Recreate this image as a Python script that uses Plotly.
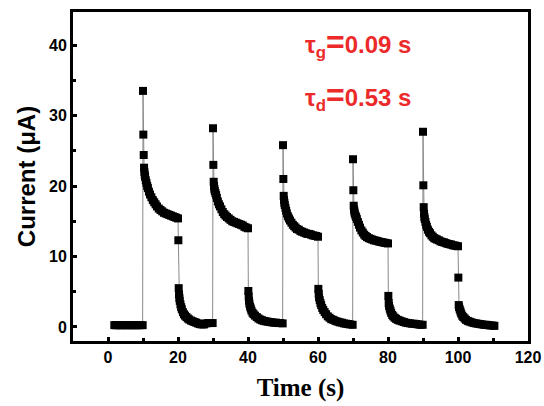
import plotly.graph_objects as go

# ---- data (time in s, current in uA) ----
dark_t = [1.8, 2.3, 2.8, 3.3, 3.8, 4.3, 4.8, 5.3, 5.8, 6.3, 6.8, 7.3, 7.8, 8.3, 8.8, 9.3, 9.9]
dark_i = [0.25, 0.25, 0.25, 0.25, 0.25, 0.25, 0.25, 0.25, 0.25, 0.25, 0.25, 0.25, 0.25, 0.25, 0.25, 0.25, 0.25]

on1_t = [10.0, 10.1, 10.2, 10.3, 10.4, 10.5, 10.6, 10.8, 11.0, 11.2, 11.4, 11.7, 12.0, 12.4, 12.8, 13.2, 13.6, 14.0, 14.5, 15.0, 15.5, 16.0, 16.5, 17.0, 17.5, 18.0, 18.5, 19.0, 19.5, 20.0]
on1_i = [33.5, 27.3, 24.4, 22.6, 22.0, 21.6, 21.3, 20.8, 20.4, 20.0, 19.7, 19.2, 18.8, 18.4, 18.0, 17.7, 17.4, 17.1, 16.8, 16.6, 16.4, 16.2, 16.1, 16.0, 15.9, 15.8, 15.7, 15.6, 15.5, 15.4]
off1_t = [20.1, 20.2, 20.3, 20.4, 20.5, 20.7, 20.9, 21.1, 21.4, 21.7, 22.0, 22.4, 22.8, 23.2, 23.7, 24.2, 24.7, 25.2, 25.7, 26.2, 26.8, 27.4, 28.0, 28.6, 29.2, 29.9]
off1_i = [12.3, 5.5, 4.6, 4.1, 3.7, 3.2, 2.8, 2.5, 2.1, 1.8, 1.6, 1.4, 1.2, 1.05, 0.9, 0.8, 0.7, 0.6, 0.5, 0.4, 0.35, 0.35, 0.5, 0.55, 0.55, 0.55]

on2_t = [30.0, 30.1, 30.2, 30.3, 30.4, 30.5, 30.7, 30.9, 31.1, 31.4, 31.7, 32.0, 32.4, 32.8, 33.2, 33.6, 34.0, 34.5, 35.0, 35.5, 36.0, 36.5, 37.0, 37.5, 38.0, 38.5, 39.0, 39.5, 40.0]
on2_i = [28.2, 23.0, 20.6, 20.0, 19.6, 19.3, 19.0, 18.7, 18.3, 17.8, 17.4, 17.1, 16.7, 16.3, 16.0, 15.8, 15.6, 15.4, 15.2, 15.0, 14.9, 14.8, 14.7, 14.6, 14.5, 14.4, 14.2, 14.1, 14.0]
off2_t = [40.1, 40.2, 40.3, 40.4, 40.6, 40.8, 41.0, 41.3, 41.6, 42.0, 42.5, 43.0, 43.5, 44.0, 44.5, 45.0, 45.6, 46.2, 46.8, 47.4, 48.0, 48.6, 49.2, 49.9]
off2_i = [5.1, 4.3, 3.7, 3.3, 2.9, 2.6, 2.3, 2.0, 1.8, 1.6, 1.4, 1.2, 1.05, 0.95, 0.85, 0.8, 0.75, 0.7, 0.65, 0.6, 0.6, 0.55, 0.55, 0.5]

on3_t = [50.0, 50.1, 50.2, 50.3, 50.4, 50.5, 50.7, 50.9, 51.1, 51.4, 51.7, 52.0, 52.4, 52.8, 53.2, 53.6, 54.0, 54.5, 55.0, 55.5, 56.0, 56.5, 57.0, 57.5, 58.0, 58.5, 59.0, 59.5, 60.0]
on3_i = [25.8, 21.0, 18.6, 18.0, 17.6, 17.3, 16.9, 16.5, 16.1, 15.7, 15.4, 15.1, 14.8, 14.5, 14.3, 14.1, 13.9, 13.8, 13.6, 13.5, 13.4, 13.3, 13.2, 13.2, 13.1, 13.0, 12.95, 12.9, 12.8]
off3_t = [60.1, 60.2, 60.3, 60.5, 60.7, 60.9, 61.2, 61.5, 61.9, 62.3, 62.8, 63.3, 63.8, 64.4, 65.0, 65.6, 66.2, 66.8, 67.4, 68.0, 68.6, 69.2, 69.9]
off3_i = [5.4, 4.7, 4.2, 3.8, 3.4, 3.1, 2.7, 2.4, 2.1, 1.8, 1.5, 1.3, 1.1, 1.0, 0.85, 0.75, 0.65, 0.6, 0.5, 0.45, 0.4, 0.35, 0.3]

on4_t = [70.0, 70.1, 70.2, 70.3, 70.4, 70.5, 70.7, 70.9, 71.1, 71.4, 71.7, 72.0, 72.4, 72.8, 73.2, 73.6, 74.0, 74.5, 75.0, 75.5, 76.0, 76.5, 77.0, 77.5, 78.0, 78.5, 79.0, 79.5, 80.0]
on4_i = [23.8, 19.4, 17.2, 16.7, 16.4, 16.1, 15.8, 15.6, 15.3, 14.9, 14.5, 14.1, 13.7, 13.4, 13.1, 12.9, 12.75, 12.6, 12.5, 12.4, 12.3, 12.25, 12.2, 12.1, 12.05, 12.0, 11.95, 11.9, 11.85]
off4_t = [80.1, 80.2, 80.3, 80.5, 80.7, 80.9, 81.2, 81.5, 81.9, 82.3, 82.8, 83.3, 83.9, 84.5, 85.1, 85.7, 86.3, 86.9, 87.5, 88.1, 88.7, 89.3, 89.9]
off4_i = [4.4, 3.4, 3.0, 2.6, 2.3, 2.0, 1.7, 1.5, 1.3, 1.15, 1.0, 0.9, 0.8, 0.7, 0.6, 0.55, 0.5, 0.45, 0.45, 0.4, 0.35, 0.3, 0.3]

on5_t = [90.0, 90.1, 90.2, 90.3, 90.4, 90.5, 90.7, 90.9, 91.1, 91.4, 91.7, 92.0, 92.4, 92.8, 93.2, 93.6, 94.0, 94.5, 95.0, 95.5, 96.0, 96.5, 97.0, 97.5, 98.0, 98.5, 99.0, 99.5, 100.0]
on5_i = [27.7, 20.1, 17.0, 16.1, 15.6, 15.3, 14.9, 14.5, 14.2, 13.8, 13.5, 13.3, 13.0, 12.8, 12.6, 12.5, 12.4, 12.3, 12.15, 12.05, 12.0, 11.9, 11.8, 11.75, 11.7, 11.6, 11.55, 11.5, 11.45]
off5_t = [100.1, 100.2, 100.3, 100.5, 100.7, 100.9, 101.2, 101.5, 101.9, 102.3, 102.8, 103.3, 103.9, 104.5, 105.1, 105.7, 106.3, 106.9, 107.5, 108.1, 108.7, 109.3, 109.9, 110.4]
off5_i = [7.0, 3.1, 2.8, 2.5, 2.2, 1.9, 1.6, 1.4, 1.2, 1.0, 0.85, 0.75, 0.65, 0.55, 0.5, 0.45, 0.4, 0.35, 0.3, 0.3, 0.25, 0.2, 0.2, 0.15]

x_ticks = [0, 20, 40, 60, 80, 100, 120]
y_ticks = [0, 10, 20, 30, 40]
tau_g_label = "τ<sub>g</sub><span style='font-size:32px'>=</span>0.09 s"
tau_d_label = "τ<sub>d</sub><span style='font-size:32px'>=</span>0.53 s"

time_s = (dark_t + on1_t + off1_t + on2_t + off2_t + on3_t + off3_t
          + on4_t + off4_t + on5_t + off5_t)
current_uA = (dark_i + on1_i + off1_i + on2_i + off2_i + on3_i + off3_i
              + on4_i + off4_i + on5_i + off5_i)

fig = go.Figure()
fig.add_trace(go.Scatter(
    x=time_s, y=current_uA, mode="lines+markers",
    line=dict(color="#8a8a8a", width=1),
    marker=dict(symbol="square", size=8, color="black", line=dict(width=0)),
    showlegend=False,
))

axis_common = dict(
    showline=True, linecolor="black", linewidth=3, mirror=True,
    ticks="inside", ticklen=4, tickwidth=3, tickcolor="black",
    showgrid=False, zeroline=False, automargin=False,
    tickfont=dict(family="Liberation Sans", size=16, color="black", weight="bold"),
)

fig.update_xaxes(
    range=[-10, 120], tickvals=x_ticks,
    minor=dict(ticks="inside", ticklen=3, tickwidth=3, tickcolor="black", dtick=10, tick0=0),
    title=dict(text="Time (s)", standoff=14,
               font=dict(family="Liberation Serif", size=25, color="black", weight="bold")),
    **axis_common,
)
fig.update_yaxes(
    range=[-2, 44.7], tickvals=y_ticks,
    minor=dict(ticks="inside", ticklen=3, tickwidth=3, tickcolor="black", dtick=5, tick0=0),
    title=dict(text="Current (μA)", standoff=7,
               font=dict(family="Liberation Sans", size=24, color="black", weight="bold")),
    **axis_common,
)

red = "#ec2a2a"
for label, ypos in [(tau_g_label, 0.905), (tau_d_label, 0.745)]:
    fig.add_annotation(
        text=label, xref="paper", yref="paper", x=0.505, y=ypos,
        xanchor="left", yanchor="middle", showarrow=False,
        font=dict(family="Liberation Sans", size=24, color=red, weight="bold"),
    )

fig.update_layout(
    width=544, height=406,
    margin=dict(l=73, r=16, t=12, b=65),
    paper_bgcolor="white", plot_bgcolor="white",
)

fig.write_html(
    "out.html",
    config={"displayModeBar": False},
    post_script="document.body.style.margin='0';document.body.style.padding='0';",
)
